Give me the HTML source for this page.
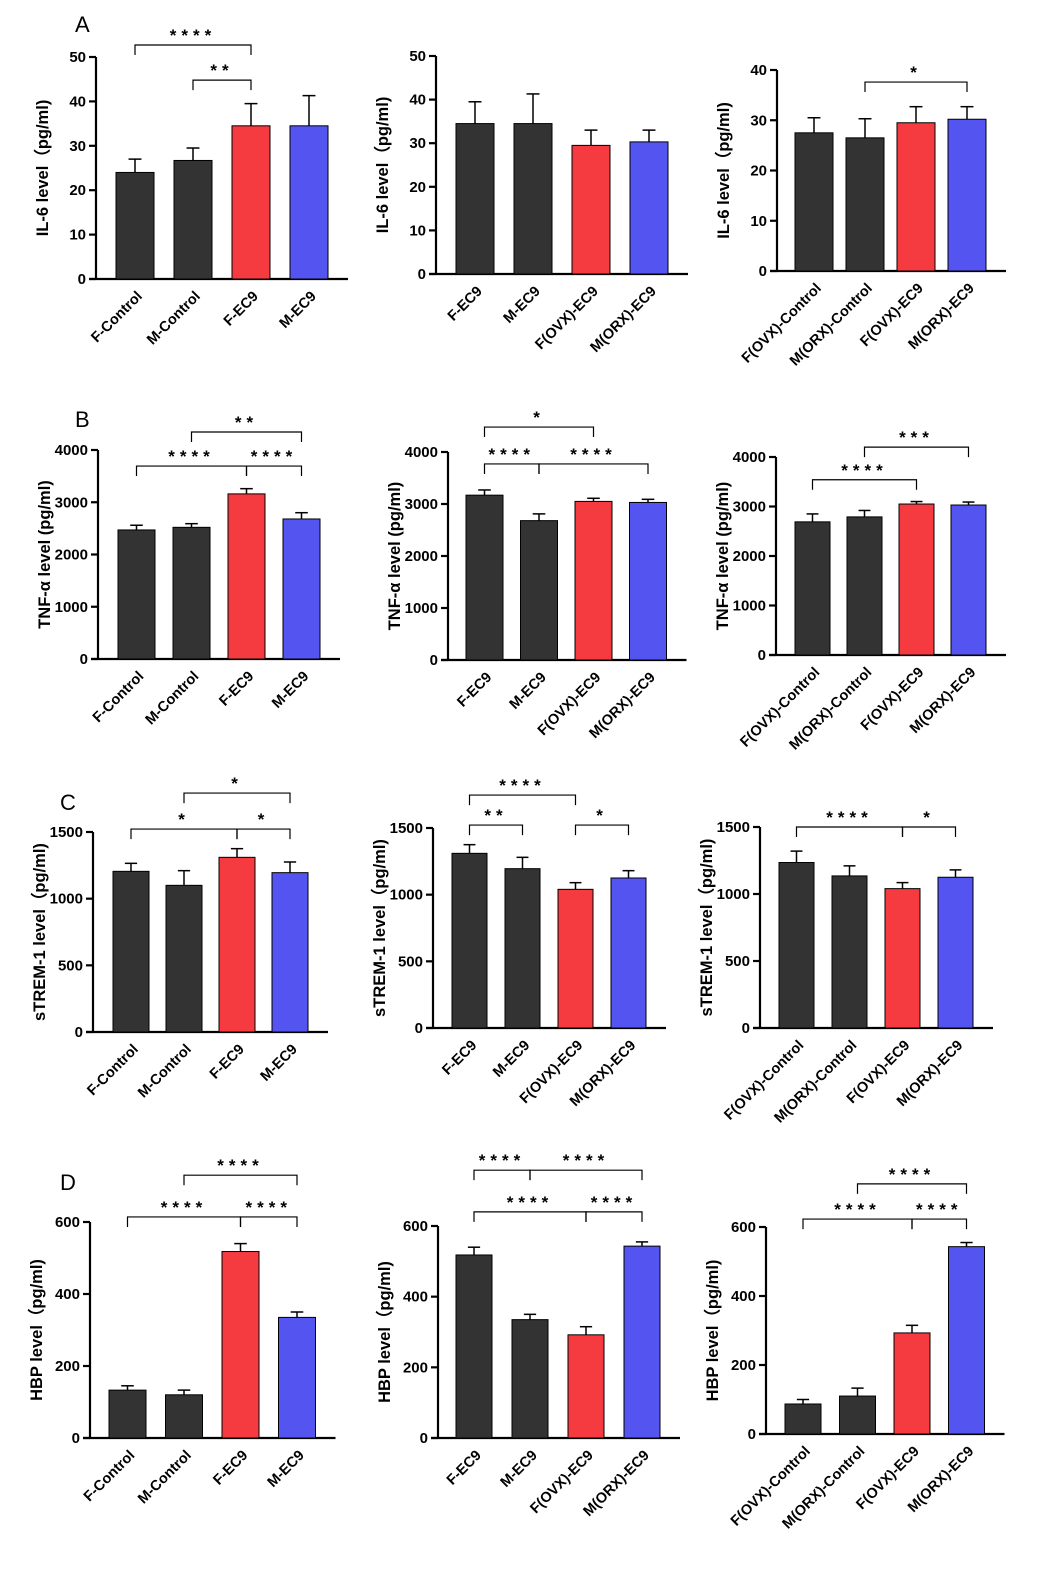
<!DOCTYPE html>
<html><head><meta charset="utf-8">
<style>
html,body{margin:0;padding:0;background:#fff;}
svg{display:block;font-family:"Liberation Sans",Arial,sans-serif;}
</style></head>
<body>
<svg id="fig" width="1047" height="1594" viewBox="0 0 1047 1594" xmlns="http://www.w3.org/2000/svg">
<text x="75" y="32" font-size="22">A</text>
<text x="75" y="427" font-size="22">B</text>
<text x="60" y="810" font-size="22">C</text>
<text x="60" y="1190" font-size="22">D</text>
</svg>
<script>
const labels1 = ["F-Control","M-Control","F-EC9","M-EC9"];
const labels2 = ["F-EC9","M-EC9","F(OVX)-EC9","M(ORX)-EC9"];
const labels3 = ["F(OVX)-Control","M(ORX)-Control","F(OVX)-EC9","M(ORX)-EC9"];
const colors = ["#333333","#333333","#f53b3f","#5454f0"];

const a1Values=[24,26.7,34.5,34.5], a1Err=[27,29.5,39.5,41.3];
const a2Values=[34.5,34.5,29.5,30.3], a2Err=[39.5,41.3,33,33];
const a3Values=[27.5,26.5,29.5,30.2], a3Err=[30.5,30.3,32.7,32.7];
const b1Values=[2470,2520,3160,2680], b1Err=[2560,2590,3260,2800];
const b2Values=[3170,2680,3050,3030], b2Err=[3270,2810,3110,3090];
const b3Values=[2690,2790,3050,3030], b3Err=[2850,2920,3100,3090];
const c1Values=[1205,1100,1310,1195], c1Err=[1265,1210,1375,1275];
const c2Values=[1310,1195,1040,1125], c2Err=[1375,1280,1090,1180];
const c3Values=[1235,1135,1040,1125], c3Err=[1320,1210,1085,1180];
const d1Values=[133,120,518,335], d1Err=[145,133,540,350];
const d2Values=[518,335,292,543], d2Err=[540,350,315,555];
const d3Values=[87,110,293,543], d3Err=[100,133,315,555];

const a1Sig=[[0,2,52.7,"****"],[1,2,44.8,"**"]];
const a2Sig=[];
const a3Sig=[[1,3,37.6,"*"]];
const b1Sig=[[1,3,4344,"**"],[0,2,3693,"****"],[2,3,3693,"****"]];
const b2Sig=[[0,2,4480,"*"],[0,1,3770,"****"],[1,3,3770,"****"]];
const b3Sig=[[1,3,4200,"***"],[0,2,3540,"****"]];
const c1Sig=[[1,3,1792,"*"],[0,2,1522,"*"],[2,3,1522,"*"]];
const c2Sig=[[0,2,1747,"****"],[0,1,1522,"**"],[2,3,1522,"*"]];
const c3Sig=[[0,2,1500,"****"],[2,3,1500,"*"]];
const d1Sig=[[1,3,730,"****"],[0,2,614,"****"],[2,3,614,"****"]];
const d2Sig=[[0,1,758,"****"],[1,3,758,"****"],[0,2,640,"****"],[2,3,640,"****"]];
const d3Sig=[[1,3,725,"****"],[0,2,623,"****"],[2,3,623,"****"]];

const ticksA=[0,10,20,30,40,50], ticksA3=[0,10,20,30,40];
const ticksB=[0,1000,2000,3000,4000], ticksC=[0,500,1000,1500], ticksD=[0,200,400,600];

const panels=[
 {id:"a1",ax:96,y0:279,yt:57,max:50,ticks:ticksA,x0:116,p:58,w:38,v:a1Values,e:a1Err,s:a1Sig,lab:labels1,title:"IL-6 level（pg/ml)"},
 {id:"a2",ax:436,y0:274,yt:56,max:50,ticks:ticksA,x0:456,p:58,w:38,v:a2Values,e:a2Err,s:a2Sig,lab:labels2,title:"IL-6 level（pg/ml)"},
 {id:"a3",ax:777,y0:271,yt:70,max:40,ticks:ticksA3,x0:795,p:51,w:38,v:a3Values,e:a3Err,s:a3Sig,lab:labels3,title:"IL-6 level（pg/ml)"},
 {id:"b1",ax:98,y0:659,yt:450,max:4000,ticks:ticksB,x0:118,p:55,w:37,v:b1Values,e:b1Err,s:b1Sig,lab:labels1,title:"TNF-α level (pg/ml)"},
 {id:"b2",ax:448,y0:660,yt:452,max:4000,ticks:ticksB,x0:466,p:54.5,w:37,v:b2Values,e:b2Err,s:b2Sig,lab:labels2,title:"TNF-α level (pg/ml)"},
 {id:"b3",ax:776,y0:655,yt:457,max:4000,ticks:ticksB,x0:795,p:52,w:35,v:b3Values,e:b3Err,s:b3Sig,lab:labels3,title:"TNF-α level (pg/ml)"},
 {id:"c1",ax:93,y0:1032,yt:832,max:1500,ticks:ticksC,x0:113,p:53,w:36,v:c1Values,e:c1Err,s:c1Sig,lab:labels1,title:"sTREM-1 level（pg/ml)"},
 {id:"c2",ax:433,y0:1028,yt:828,max:1500,ticks:ticksC,x0:452,p:53,w:35,v:c2Values,e:c2Err,s:c2Sig,lab:labels2,title:"sTREM-1 level（pg/ml)"},
 {id:"c3",ax:760,y0:1028,yt:827,max:1500,ticks:ticksC,x0:779,p:53,w:35,v:c3Values,e:c3Err,s:c3Sig,lab:labels3,title:"sTREM-1 level（pg/ml)"},
 {id:"d1",ax:90,y0:1438,yt:1222,max:600,ticks:ticksD,x0:109,p:56.5,w:37,v:d1Values,e:d1Err,s:d1Sig,lab:labels1,title:"HBP level（pg/ml)"},
 {id:"d2",ax:438,y0:1438,yt:1226,max:600,ticks:ticksD,x0:456,p:56,w:36,v:d2Values,e:d2Err,s:d2Sig,lab:labels2,title:"HBP level（pg/ml)"},
 {id:"d3",ax:766,y0:1434,yt:1227,max:600,ticks:ticksD,x0:785,p:54.5,w:36,v:d3Values,e:d3Err,s:d3Sig,lab:labels3,title:"HBP level（pg/ml)"}
];
const NS="http://www.w3.org/2000/svg";
const svg=document.getElementById("fig");
function mk(tag,attrs,parent){const el=document.createElementNS(NS,tag);for(const k in attrs)el.setAttribute(k,attrs[k]);(parent||svg).appendChild(el);return el;}
panels.forEach(P=>{
  const g=mk("g",{});
  
  
  const yS=v=>P.y0-(v/P.max)*(P.y0-P.yt);
  const xC=i=>P.x0+i*P.p+P.w/2;
  const xEnd=P.x0+3*P.p+P.w+20;
  const ya=mk("line",{x1:P.ax,y1:P.yt,x2:P.ax,y2:P.y0+1,stroke:"#000","stroke-width":2.2},g);
  
  
  const xa=mk("line",{x1:P.ax-7,y1:P.y0,x2:xEnd,y2:P.y0,stroke:"#000","stroke-width":2.2},g);
  
  
  P.ticks.forEach(t=>{
    const y=yS(t);
    mk("line",{x1:P.ax-7,y1:y,x2:P.ax,y2:y,stroke:"#000","stroke-width":2.2},g);
    const tl=mk("text",{x:P.ax-10,y:y+5,"text-anchor":"end","font-size":15,"font-weight":"bold"},g);
    tl.textContent=t;
    
    
  });
  const yt=mk("text",{x:0,y:0,"text-anchor":"middle","font-size":16.5,"font-weight":"bold",transform:`translate(${P.ax-48},${(P.y0+P.yt)/2}) rotate(-90)`},g);
  yt.textContent=P.title;
  
  
  P.v.forEach((v,i)=>{
    const x=P.x0+i*P.p, cx=xC(i), top=yS(v), et=yS(P.e[i]);
    mk("line",{x1:cx,y1:top,x2:cx,y2:et,stroke:"#000","stroke-width":1.5},g);
    mk("line",{x1:cx-P.w*0.17,y1:et,x2:cx+P.w*0.17,y2:et,stroke:"#000","stroke-width":1.5},g);
    const r=mk("rect",{x:x,y:top,width:P.w,height:P.y0-top,fill:colors[i],stroke:"#000","stroke-width":1},g);
    
    
    const tx=cx+8, ty=P.y0+18;
    const lt=mk("text",{x:tx,y:ty,"text-anchor":"end","font-size":14.5,"font-weight":"bold",transform:`rotate(-45 ${tx} ${ty})`},g);
    lt.textContent=P.lab[i];
    
    
  });
  P.s.forEach(s=>{
    const y=yS(s[2]), x1=xC(s[0]), x2=xC(s[1]);
    const br=mk("path",{d:`M${x1},${y+10}V${y}H${x2}V${y+10}`,fill:"none",stroke:"#000","stroke-width":1.2},g);
    
    
    const st=mk("text",{x:(x1+x2)/2,y:y-4,"text-anchor":"middle","font-size":17,"font-weight":"bold","letter-spacing":"5"},g);
    st.textContent=s[3];
    
    
  });
});
</script>
</body></html>
